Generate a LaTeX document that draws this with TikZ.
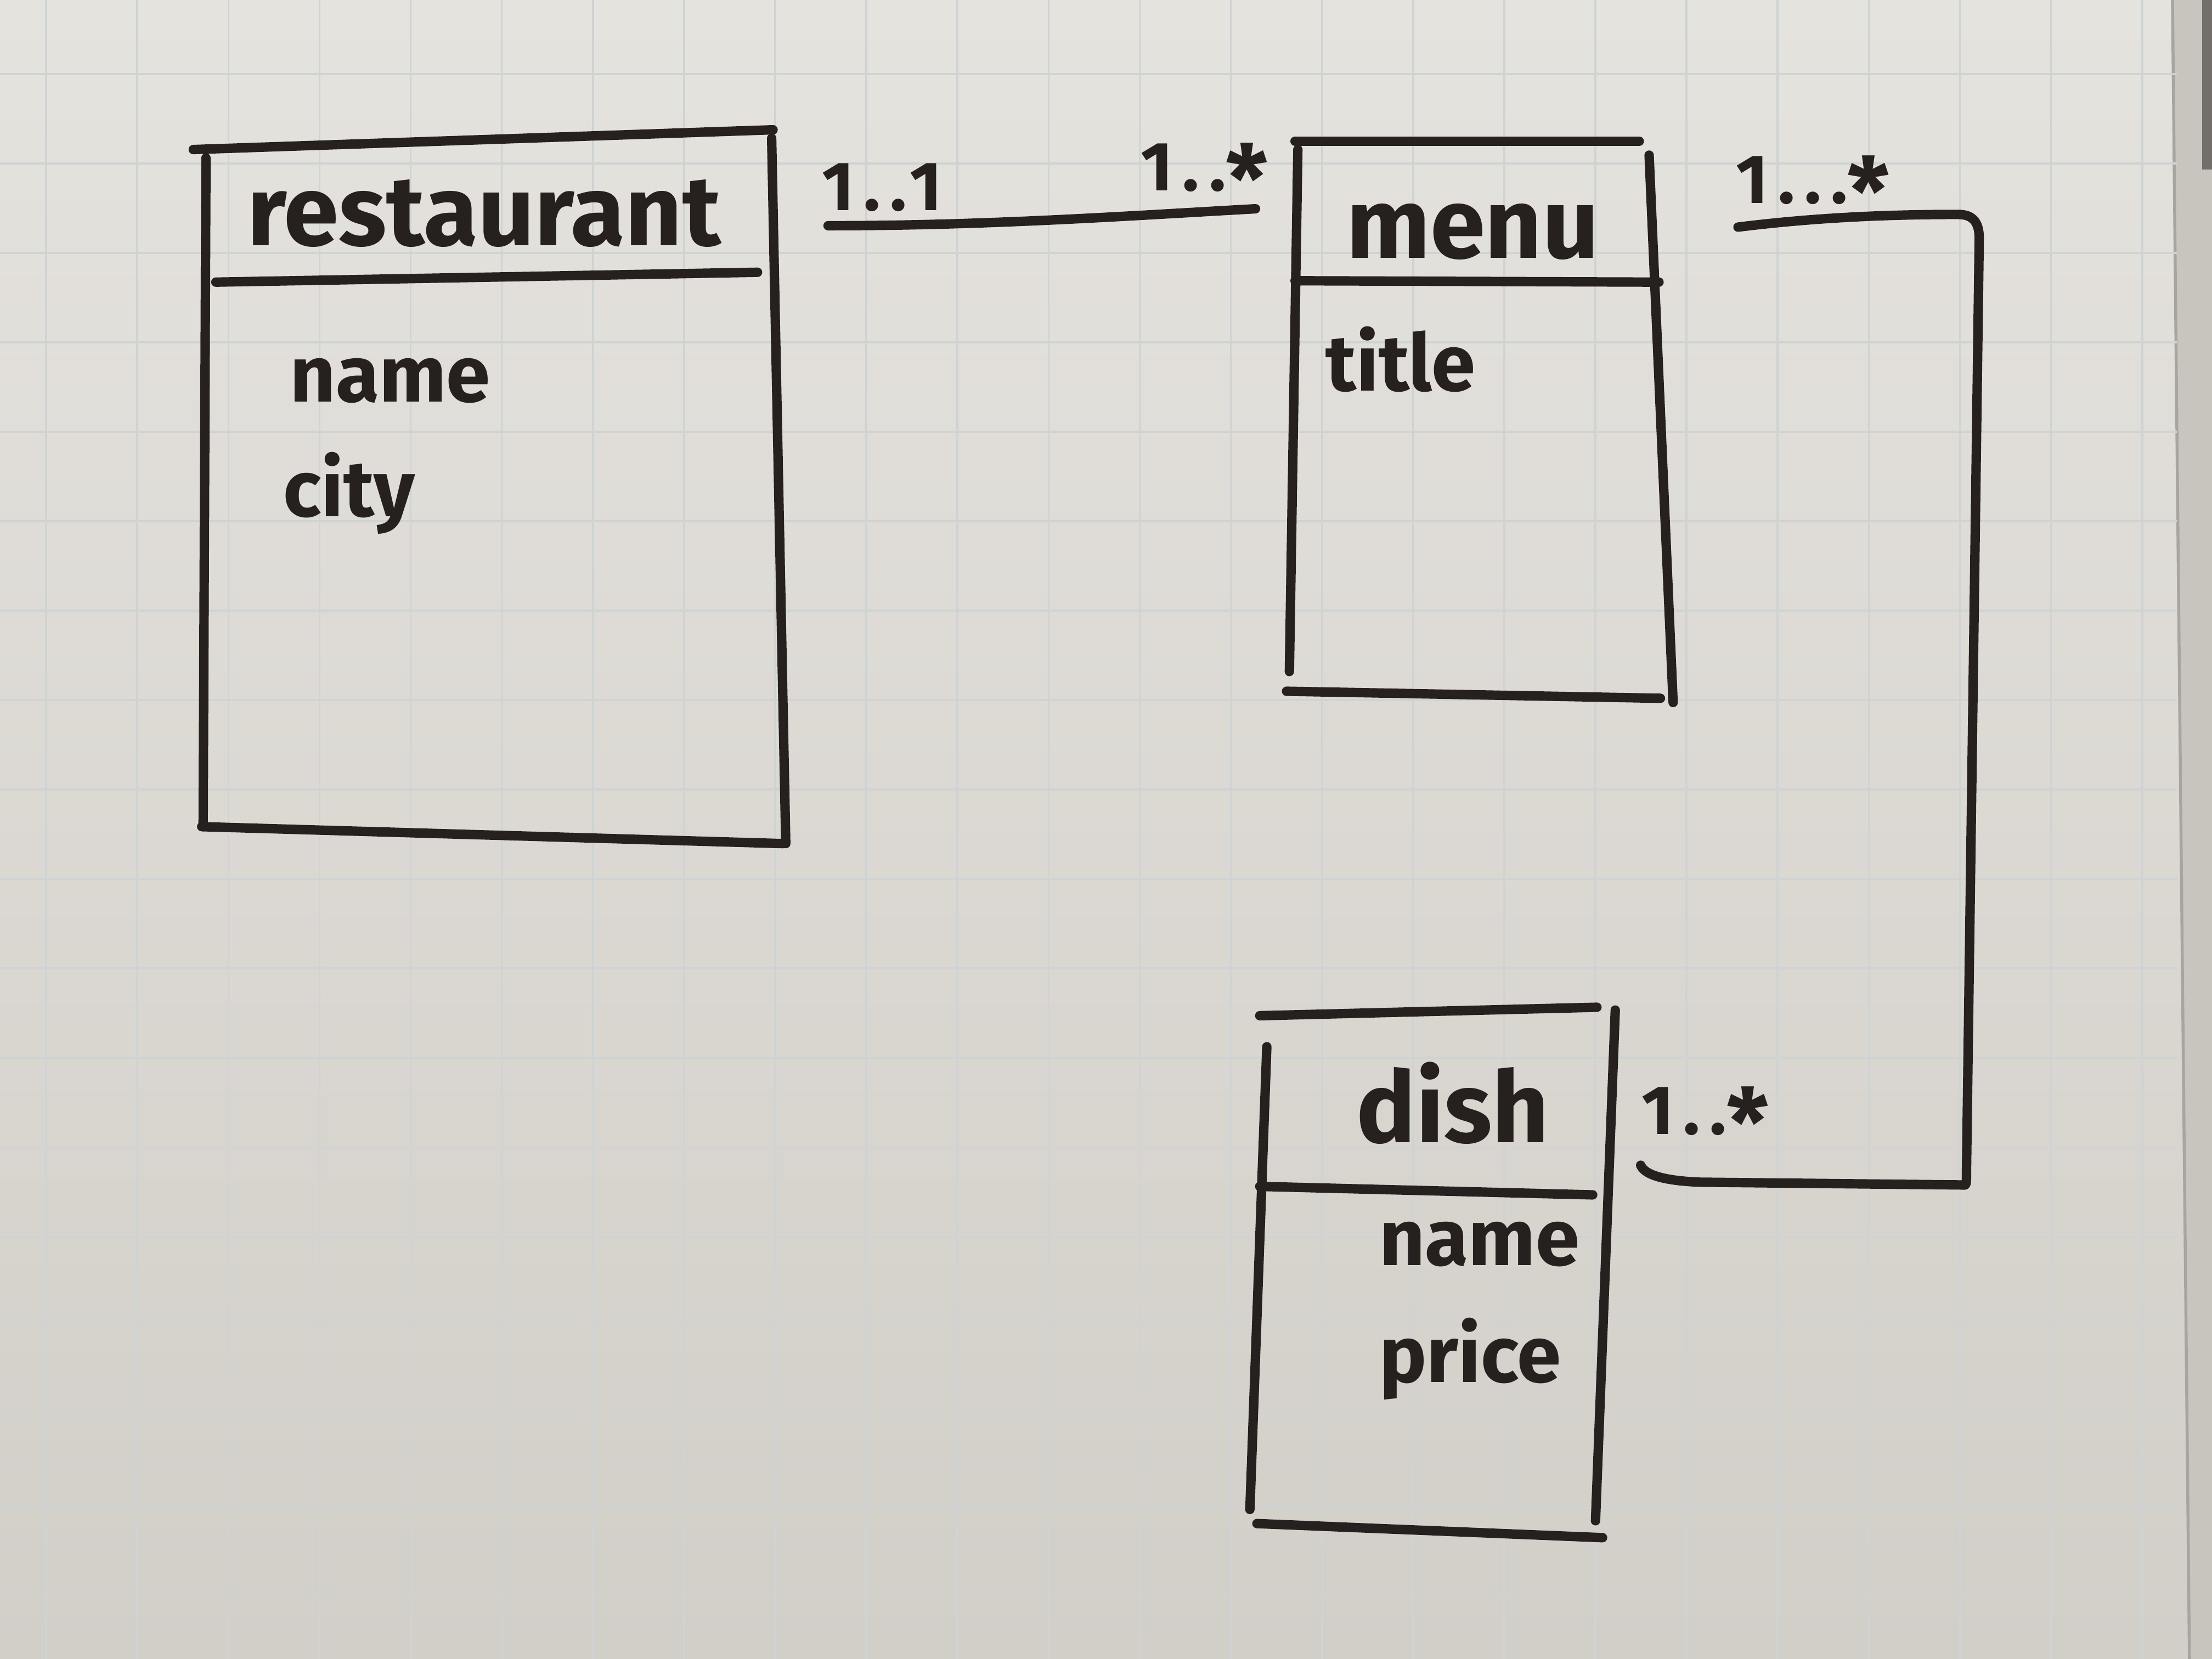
\documentclass[tikz,border=0pt]{standalone}
\usepackage{fontspec}
\setmainfont{Fira Sans}
\usetikzlibrary{calc}

\definecolor{papertop}{RGB}{229,227,222}
\definecolor{paperbot}{RGB}{210,206,200}
\definecolor{edgestrip}{RGB}{200,196,190}
\definecolor{gridc}{RGB}{207,211,211}
\definecolor{ink}{RGB}{38,32,30}

% asterisk sitting low and large, as written by hand
\newcommand{\lowstar}{\raisebox{-0.6ex}{\scalebox{1.35}{*}}}

\begin{document}
\begin{tikzpicture}[x=0.01cm, y=-0.01cm,
  pen/.style={draw=ink, line width=1.9pt, line cap=round, line join=round},
  gridline/.style={draw=gridc, line width=0.4pt},
  clsname/.style={font=\fontsize{20}{24}\selectfont\bfseries, text=ink, inner sep=0pt, anchor=base},
  attr/.style={font=\fontsize{16}{19}\selectfont\bfseries, text=ink, inner sep=0pt, anchor=base west},
  mult/.style={font=\fontsize{14}{16}\selectfont\bfseries\addfontfeatures{LetterSpace=14}, text=ink, inner sep=0pt, anchor=base west}]

% paper
\useasboundingbox (0,0) rectangle (1568,1176);
\shade[top color=papertop, bottom color=paperbot] (0,0) rectangle (1568,1176);
\fill[edgestrip] (1540,0) -- (1568,0) -- (1568,1176) -- (1552,1176) -- cycle;
\draw[draw=paperbot!80!black, line width=0.6pt] (1540,0) -- (1552,1176);
\fill[ink!55!paperbot] (1561,0) rectangle (1568,120);

% squared grid
\foreach \i in {0,...,23} {
  \draw[gridline] ({32.7+64.6*\i},0) -- ({32.7+64.6*\i},1176);
}
\foreach \j in {0,...,17} {
  \draw[gridline] (0,{52.5+63.4*\j}) -- (1543,{52.5+63.4*\j});
}

% ---------------- restaurant ----------------
\coordinate (r-tl) at (137,106);
\coordinate (r-tr) at (548,92);
\coordinate (r-ls) at (146,112);
\coordinate (r-lb) at (144,586);
\coordinate (r-rs) at (547,98);
\coordinate (r-rb) at (557,598);
\coordinate (r-bl) at (143,586);
\coordinate (r-br) at (555,598);
\coordinate (r-dl) at (153,200);
\coordinate (r-dr) at (537,193);
\draw[pen] (r-tl) -- (r-tr);
\draw[pen] (r-ls) -- (r-lb);
\draw[pen] (r-rs) -- (r-rb);
\draw[pen] (r-bl) -- (r-br);
\draw[pen] (r-dl) -- (r-dr);
\node[clsname] (restaurant) at (343,174) {restaurant};
\node[attr] (r-name) at (205,285) {name};
\node[attr] (r-city) at (200,366) {city};

% ---------------- menu ----------------
\coordinate (m-tl) at (918,100);
\coordinate (m-tr) at (1162,100);
\coordinate (m-ls) at (920,106);
\coordinate (m-lb) at (914,476);
\coordinate (m-rs) at (1169,110);
\coordinate (m-rb) at (1186,498);
\coordinate (m-bl) at (912,490);
\coordinate (m-br) at (1177,495);
\coordinate (m-dl) at (918,199);
\coordinate (m-dr) at (1176,200);
\draw[pen] (m-tl) -- (m-tr);
\draw[pen] (m-ls) -- (m-lb);
\draw[pen] (m-rs) -- (m-rb);
\draw[pen] (m-bl) -- (m-br);
\draw[pen] (m-dl) -- (m-dr);
\node[clsname] (menu) at (1044,183) {menu};
\node[attr] (m-title) at (939,277) {title};

% ---------------- dish ----------------
\coordinate (d-tl) at (893,720);
\coordinate (d-tr) at (1132,714);
\coordinate (d-ls) at (898,742);
\coordinate (d-lb) at (886,1070);
\coordinate (d-rs) at (1145,716);
\coordinate (d-rb) at (1131,1078);
\coordinate (d-bl) at (891,1080);
\coordinate (d-br) at (1136,1090);
\coordinate (d-dl) at (893,841);
\coordinate (d-dr) at (1129,847);
\draw[pen] (d-tl) -- (d-tr);
\draw[pen] (d-ls) -- (d-lb);
\draw[pen] (d-rs) -- (d-rb);
\draw[pen] (d-bl) -- (d-br);
\draw[pen] (d-dl) -- (d-dr);
\node[clsname] (dish) at (1030,810) {dish};
\node[attr] (d-name) at (977,897) {name};
\node[attr] (d-price) at (977,980) {price};

% ---------------- associations ----------------
\coordinate (rm-a) at (587,160);
\coordinate (rm-b) at (890,148);
\draw[pen] (rm-a) .. controls (700,160) and (800,153) .. (rm-b);
\node[mult] (mult-r) at (582,149) {1..1};
\node[mult] (mult-m1) at (808,135) {1..\lowstar};

\coordinate (md-a) at (1232,161);
\coordinate (md-c2) at (1393,840);
\coordinate (md-b) at (1163,826);
\draw[pen] (md-a) .. controls (1280,155) and (1330,152) .. (1388,152)
  .. controls (1398,152) and (1403,157) .. (1403,169)
  -- (1394,828) .. controls (1394,836) and (1394,840) .. (md-c2)
  -- (1205,838) .. controls (1180,837) and (1166,833) .. (md-b);
\node[mult] (mult-m2) at (1230,144) {1...\lowstar};
\node[mult] (mult-d) at (1163,804) {1..\lowstar};

\end{tikzpicture}
\end{document}
